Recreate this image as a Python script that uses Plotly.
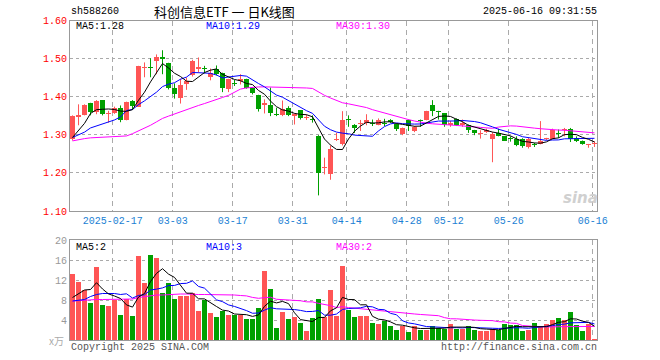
import numpy as np
import pandas as pd
import plotly.graph_objects as go

# ---------------- data ----------------
dates = [
    "02-06", "02-07", "02-10", "02-11", "02-12", "02-13", "02-14", "02-17", "02-18", "02-19",
    "02-20", "02-21", "02-24", "02-25", "02-26", "02-27", "02-28", "03-03", "03-04", "03-05",
    "03-06", "03-07", "03-10", "03-11", "03-12", "03-13", "03-14", "03-17", "03-18", "03-19",
    "03-20", "03-21", "03-24", "03-25", "03-26", "03-27", "03-28", "03-31", "04-01", "04-02",
    "04-03", "04-07", "04-08", "04-09", "04-10", "04-11", "04-14", "04-15", "04-16", "04-17",
    "04-18", "04-21", "04-22", "04-23", "04-24", "04-25", "04-28", "04-29", "04-30", "05-06",
    "05-07", "05-08", "05-09", "05-12", "05-13", "05-14", "05-15", "05-16", "05-19", "05-20",
    "05-21", "05-22", "05-23", "05-26", "05-27", "05-28", "05-29", "05-30", "06-03", "06-04",
    "06-05", "06-06", "06-09", "06-10", "06-11", "06-12", "06-13", "06-16",
]

opens = [
    1.288, 1.348, 1.353, 1.383, 1.360, 1.391, 1.354, 1.358, 1.371, 1.340,
    1.388, 1.374, 1.475, 1.477, 1.494, 1.503, 1.488, 1.422, 1.397, 1.434,
    1.456, 1.474, 1.475, 1.453, 1.474, 1.461, 1.419, 1.437, 1.442, 1.446,
    1.424, 1.404, 1.379, 1.377, 1.353, 1.353, 1.371, 1.349, 1.364, 1.344,
    1.342, 1.298, 1.213, 1.197, 1.286, 1.275, 1.340, 1.327, 1.329, 1.331,
    1.332, 1.327, 1.332, 1.340, 1.329, 1.301, 1.338, 1.310, 1.339, 1.340,
    1.377, 1.362, 1.356, 1.327, 1.342, 1.327, 1.325, 1.312, 1.303, 1.307,
    1.290, 1.304, 1.296, 1.290, 1.290, 1.290, 1.268, 1.275, 1.276, 1.288,
    1.289, 1.303, 1.312, 1.314, 1.292, 1.283, 1.274, 1.276,
]
highs = [
    1.351, 1.380, 1.380, 1.384, 1.391, 1.391, 1.363, 1.374, 1.377, 1.387,
    1.391, 1.481, 1.490, 1.501, 1.511, 1.522, 1.489, 1.435, 1.447, 1.450,
    1.497, 1.503, 1.481, 1.474, 1.482, 1.463, 1.447, 1.444, 1.459, 1.447,
    1.425, 1.405, 1.393, 1.424, 1.371, 1.390, 1.375, 1.356, 1.365, 1.353,
    1.351, 1.299, 1.240, 1.272, 1.305, 1.362, 1.351, 1.328, 1.339, 1.354,
    1.340, 1.343, 1.342, 1.341, 1.330, 1.319, 1.340, 1.323, 1.340, 1.363,
    1.391, 1.363, 1.357, 1.336, 1.343, 1.340, 1.327, 1.313, 1.312, 1.316,
    1.307, 1.316, 1.297, 1.296, 1.296, 1.291, 1.292, 1.279, 1.336, 1.292,
    1.316, 1.314, 1.318, 1.318, 1.296, 1.285, 1.276, 1.283,
]
lows = [
    1.285, 1.325, 1.351, 1.351, 1.354, 1.351, 1.332, 1.355, 1.333, 1.338,
    1.366, 1.373, 1.451, 1.451, 1.459, 1.459, 1.419, 1.395, 1.382, 1.418,
    1.453, 1.463, 1.461, 1.443, 1.456, 1.412, 1.412, 1.428, 1.432, 1.421,
    1.406, 1.361, 1.356, 1.349, 1.349, 1.349, 1.349, 1.327, 1.340, 1.339,
    1.332, 1.141, 1.196, 1.182, 1.284, 1.272, 1.321, 1.305, 1.310, 1.325,
    1.323, 1.325, 1.323, 1.331, 1.310, 1.299, 1.310, 1.307, 1.321, 1.338,
    1.349, 1.340, 1.321, 1.321, 1.323, 1.321, 1.305, 1.299, 1.290, 1.305,
    1.228, 1.296, 1.284, 1.282, 1.270, 1.266, 1.264, 1.268, 1.275, 1.286,
    1.288, 1.292, 1.296, 1.281, 1.281, 1.274, 1.266, 1.268,
]
closes = [
    1.349, 1.353, 1.378, 1.361, 1.389, 1.354, 1.357, 1.371, 1.340, 1.386,
    1.376, 1.480, 1.477, 1.475, 1.503, 1.500, 1.422, 1.408, 1.432, 1.442,
    1.495, 1.476, 1.472, 1.463, 1.459, 1.424, 1.446, 1.434, 1.446, 1.424,
    1.409, 1.369, 1.384, 1.356, 1.351, 1.367, 1.353, 1.354, 1.343, 1.347,
    1.339, 1.200, 1.215, 1.264, 1.290, 1.338, 1.338, 1.317, 1.332, 1.339,
    1.329, 1.340, 1.329, 1.334, 1.316, 1.318, 1.323, 1.321, 1.336, 1.362,
    1.362, 1.360, 1.327, 1.330, 1.325, 1.330, 1.312, 1.304, 1.305, 1.312,
    1.303, 1.298, 1.285, 1.288, 1.273, 1.270, 1.290, 1.272, 1.285, 1.290,
    1.312, 1.301, 1.314, 1.290, 1.285, 1.276, 1.276, 1.279,
]
# volume in 万 lots
volumes = [
    13.3, 11.7, 10.1, 7.5, 14.7, 7.0, 6.8, 8.0, 5.0, 8.3,
    4.8, 16.9, 11.5, 17.0, 16.4, 9.5, 11.5, 8.2, 8.8, 8.8,
    9.5, 5.9, 8.1, 5.4, 4.6, 5.9, 5.0, 5.1, 5.1, 4.2,
    4.2, 6.4, 13.8, 10.2, 2.5, 5.7, 4.2, 4.6, 3.4, 1.8,
    4.5, 8.2, 4.7, 10.0, 4.8, 14.9, 6.1, 4.6, 4.8, 4.8,
    3.4, 3.2, 3.9, 2.8, 2.0, 2.9, 1.7, 2.8, 2.1, 2.1,
    2.8, 2.5, 2.3, 3.2, 2.3, 2.3, 2.8, 2.0, 1.9, 1.9,
    2.3, 2.1, 3.3, 3.0, 3.0, 1.9, 2.1, 3.4, 2.7, 3.2,
    4.0, 4.4, 4.0, 5.6, 3.0, 1.8, 3.2, 0.2,
]

# moving-average values shown before the window is full
ma5_head = [1.293, 1.311, 1.330, 1.356]
ma10_head = [1.293, 1.300, 1.307, 1.318, 1.323, 1.328, 1.333, 1.339, 1.347]
ma30_head = [1.284, 1.288, 1.290, 1.292, 1.293, 1.294, 1.295, 1.295, 1.296, 1.297,
             1.303, 1.310, 1.318, 1.325, 1.334, 1.343, 1.349, 1.355, 1.361, 1.367,
             1.372, 1.377, 1.382, 1.388, 1.393, 1.398, 1.4035, 1.411, 1.420]
vma5_head = [8.5, 9.2, 10.0, 10.1]
vma10_head = [7.8, 7.9, 8.1, 8.7, 9.1, 9.3, 9.3, 9.3, 9.1]
vma30_head = [7.8, 7.9, 8.0, 8.0, 8.1, 8.1, 8.1, 8.1, 8.1, 8.1,
              8.2, 8.5, 8.7, 8.9, 9.0, 9.0, 9.1, 9.2, 9.2, 9.2,
              9.1, 9.1, 9.1, 9.1, 9.1, 9.1, 9.1, 9.0, 8.9]

tick_dates = ["02-17", "03-03", "03-17", "03-31", "04-14", "04-28", "05-12", "05-26", "06-16"]
tick_labels = ["2025-02-17", "03-03", "03-17", "03-31", "04-14", "04-28", "05-12", "05-26", "06-16"]
price_ticks = [1.10, 1.20, 1.30, 1.40, 1.50, 1.60]
vol_ticks = [4, 8, 12, 16, 20]

code = "sh588260"
title = "科创信息ETF 一 日K线图"
stamp = "2025-06-16 09:31:55"
ma_labels = ["MA5:1.28", "MA10:1.29", "MA30:1.30"]
vma_labels = ["MA5:2", "MA10:3", "MA30:2"]

# ---------------- styling ----------------
RED = "#ff5555"
GREEN = "#00a000"
GRID = "#aaaaaa"
FRAME = "#999999"
MONO = "Liberation Mono"
W, H = 660, 360
L, R = 70, 597
P_TOP, P_BOT = 20.5, 211
V_TOP, V_BOT = 240, 340


def ma(values, n, head):
    s = pd.Series(values, dtype=float).rolling(n).mean().to_numpy()
    s[: len(head)] = head
    return s


x = np.arange(len(dates))
o = np.array(opens); c = np.array(closes); hi = np.array(highs); lo = np.array(lows)
v = np.array(volumes)
up = c >= o

fig = go.Figure()

# wicks
for mask, col in ((up, RED), (~up, GREEN)):
    wx, wy = [], []
    for i in np.where(mask)[0]:
        wx += [x[i], x[i], None]
        wy += [lo[i], hi[i], None]
    fig.add_trace(go.Scatter(x=wx, y=wy, mode="lines", line=dict(color=col, width=1),
                             hoverinfo="skip", showlegend=False, xaxis="x", yaxis="y"))

# bodies
base = np.minimum(o, c)
height = np.maximum(np.abs(c - o), 0.0028)
for mask, col in ((up, RED), (~up, GREEN)):
    fig.add_trace(go.Bar(x=x[mask], y=height[mask], base=base[mask], width=0.83,
                         marker=dict(color=col, line=dict(width=0)),
                         showlegend=False, xaxis="x", yaxis="y"))

# price MAs
for n, head, col in ((30, ma30_head, "#ff00ff"), (10, ma10_head, "#0000ff"), (5, ma5_head, "#000000")):
    fig.add_trace(go.Scatter(x=x, y=ma(closes, n, head), mode="lines",
                             line=dict(color=col, width=1), showlegend=False,
                             xaxis="x", yaxis="y"))

# volume bars
fig.add_trace(go.Bar(x=x, y=v, width=0.83,
                     marker=dict(color=[RED if u else GREEN for u in up], line=dict(width=0)),
                     showlegend=False, xaxis="x2", yaxis="y2"))
for n, head, col in ((30, vma30_head, "#ff00ff"), (10, vma10_head, "#0000ff"), (5, vma5_head, "#000000")):
    fig.add_trace(go.Scatter(x=x, y=ma(volumes, n, head), mode="lines",
                             line=dict(color=col, width=1), showlegend=False,
                             xaxis="x2", yaxis="y2"))

tick_idx = [dates.index(d) - 0.3 for d in tick_dates]
xrange = [-0.42, len(dates) - 1 + 0.42]

common_x = dict(range=xrange, domain=[L / W, R / W], showgrid=True, gridcolor=GRID,
                griddash="5px,4px", gridwidth=1, showline=True, linecolor=FRAME,
                linewidth=1, mirror=True, zeroline=False, ticks="", automargin=False,
                tickvals=tick_idx, ticktext=tick_labels, fixedrange=True)

fig.update_layout(
    width=W, height=H, margin=dict(l=0, r=0, t=0, b=0, autoexpand=False),
    paper_bgcolor="white", plot_bgcolor="white", barmode="overlay",
    bargap=0, showlegend=False, hovermode=False,
    xaxis=dict(**common_x, anchor="y",
               tickfont=dict(family=MONO, size=10, color="#1a7fd4")),
    xaxis2=dict(**common_x, anchor="y2", showticklabels=False),
    yaxis=dict(domain=[1 - P_BOT / H, 1 - P_TOP / H], range=[1.10, 1.60],
               tickvals=price_ticks, ticktext=[f"{t:.2f}" for t in price_ticks],
               tickfont=dict(family=MONO, size=10, color="#ff0000"),
               showgrid=True, gridcolor=GRID, griddash="dot", gridwidth=1,
               showline=True, linecolor=FRAME, linewidth=1, mirror=True,
               zeroline=False, ticks="", anchor="x", automargin=False, fixedrange=True),
    yaxis2=dict(domain=[1 - V_BOT / H, 1 - V_TOP / H], range=[0, 20],
                tickvals=vol_ticks, ticktext=[str(t) for t in vol_ticks],
                tickfont=dict(family=MONO, size=10, color="#999999"),
                showgrid=True, gridcolor=GRID, griddash="dot", gridwidth=1,
                showline=True, linecolor=FRAME, linewidth=1, mirror=True,
                zeroline=False, ticks="", anchor="x2", automargin=False, fixedrange=True),
)


def txt(s, px, py, color="#000000", size=10, family=MONO, xanchor="left", **kw):
    fig.add_annotation(text=s, x=px / W, y=1 - py / H, xref="paper", yref="paper",
                       xanchor=xanchor, yanchor="middle", showarrow=False,
                       font=dict(family=family, size=size, color=color), **kw)


txt(code, 69, 12)
txt(title, 225, 12, size=13, family="Noto Sans CJK SC", xanchor="center")
txt(stamp, 599, 12, xanchor="right")
for s, px, col in zip(ma_labels, (74, 204, 334), ("#000000", "#0000ff", "#ff00ff")):
    txt(s, px, 27, color=col)
for s, px, col in zip(vma_labels, (74, 204, 334), ("#000000", "#0000ff", "#ff00ff")):
    txt(s, px, 247, color=col)
txt("x万", 66, 340, color="#aaaaaa", xanchor="right", family="Noto Sans CJK SC")
txt("Copyright 2025 SINA.COM", 69, 347, color="#555555")
txt("http://finance.sina.com.cn", 599, 347, color="#555555", xanchor="right")
txt("<b><i>sina</i></b>", 580, 198, color="#d0d0d0", size=15, family="DejaVu Sans",
    xanchor="center")

fig.write_html("out.html", config={"displayModeBar": False, "staticPlot": True},
               post_script="document.body.style.margin='0';document.body.style.overflow='hidden';")
